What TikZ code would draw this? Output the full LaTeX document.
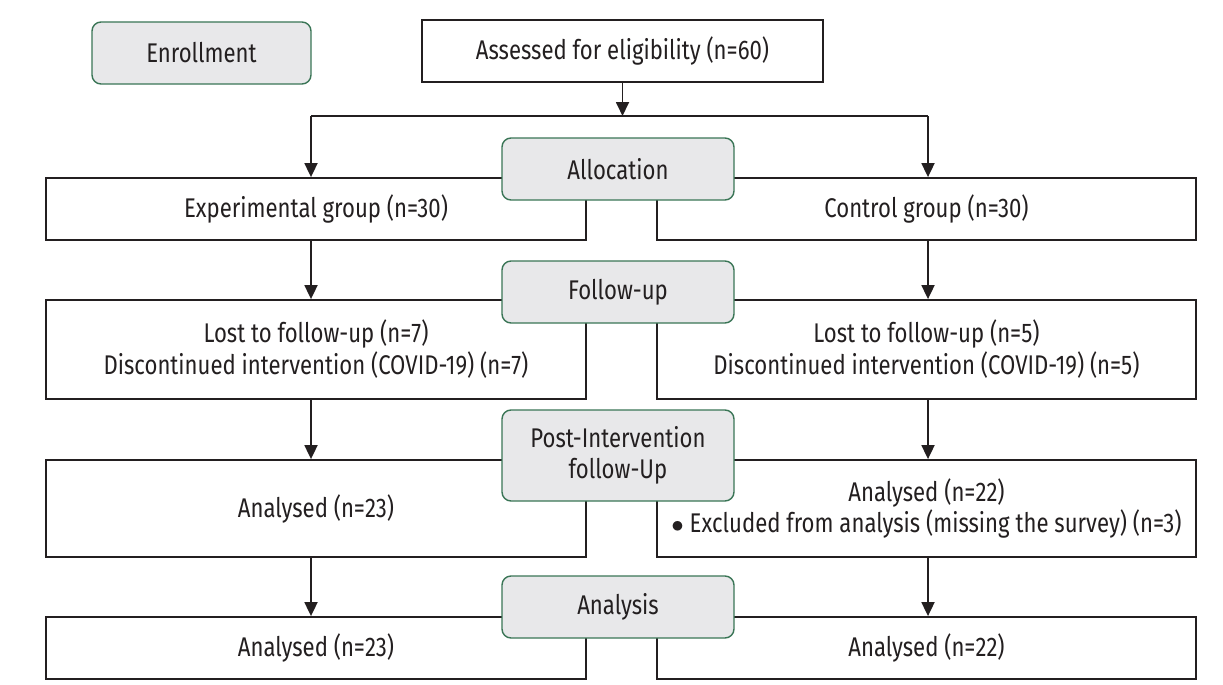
\documentclass[tikz,border=0pt]{standalone}
\usepackage{fontspec}
\setmainfont{Fira Sans}[FakeStretch=0.82]
\usepackage{tikz}
\usetikzlibrary{arrows.meta}
\definecolor{ink}{HTML}{231F20}
\definecolor{stageLine}{HTML}{3A7556}
\definecolor{stageFill}{HTML}{E8E8EA}
\tikzset{
  flowBox/.style={draw=ink, line width=1.8pt, fill=white, inner sep=0pt, text=ink, align=center},
  stageBox/.style={draw=stageLine, line width=1.4pt, fill=stageFill, rounded corners=9pt, inner sep=0pt, text=ink, align=center},
  flowArrow/.style={draw=ink, line width=1.8pt, -{Triangle[width=13pt,length=14pt]}},
  flowLine/.style={draw=ink, line width=1.8pt}
}

\begin{document}
\begin{tikzpicture}[x=1pt, y=-1pt, font=\fontsize{27}{31}\selectfont]
  \useasboundingbox (0,0) rectangle (1223,685);

  \node[stageBox, minimum width=219pt, minimum height=62pt] (enroll) at (201.5,53) {Enrollment};
  \node[flowBox, minimum width=401pt, minimum height=62pt] (assess) at (622.5,51) {Assessed for eligibility (n=60)};

  \node[flowBox, minimum width=540pt, minimum height=62pt] (expGroup) at (316,209) {Experimental group (n=30)};
  \node[flowBox, minimum width=539pt, minimum height=62pt] (ctrlGroup) at (926.5,209) {Control group (n=30)};
  \node[flowBox, minimum width=540pt, minimum height=99pt] (expLost) at (316,349.5)
    {Lost to follow-up (n=7)\\[1pt]Discontinued intervention (COVID-19) (n=7)};
  \node[flowBox, minimum width=539pt, minimum height=99pt] (ctrlLost) at (926.5,349.5)
    {Lost to follow-up (n=5)\\[1pt]Discontinued intervention (COVID-19) (n=5)};
  \node[flowBox, minimum width=540pt, minimum height=97pt] (expPost) at (316,508.5) {Analysed (n=23)};
  \node[flowBox, minimum width=539pt, minimum height=97pt] (ctrlPost) at (926.5,508.5)
    {Analysed (n=22)\\$\bullet$ Excluded from analysis (missing the survey) (n=3)};
  \node[flowBox, minimum width=540pt, minimum height=62pt] (expFinal) at (316,648) {Analysed (n=23)};
  \node[flowBox, minimum width=539pt, minimum height=62pt] (ctrlFinal) at (926.5,648) {Analysed (n=22)};

  \coordinate (splitL) at (311,116);
  \coordinate (splitR) at (928,116);
  \draw[flowArrow] (assess.south) -- (assess.south |- splitL);
  \draw[flowLine] (splitL) -- (splitR);
  \draw[flowArrow] (splitL) -- (splitL |- expGroup.north);
  \draw[flowArrow] (splitR) -- (splitR |- ctrlGroup.north);
  \draw[flowArrow] (splitL |- expGroup.south) -- (splitL |- expLost.north);
  \draw[flowArrow] (splitR |- ctrlGroup.south) -- (splitR |- ctrlLost.north);
  \draw[flowArrow] (splitL |- expLost.south) -- (splitL |- expPost.north);
  \draw[flowArrow] (splitR |- ctrlLost.south) -- (splitR |- ctrlPost.north);
  \draw[flowArrow] (splitL |- expPost.south) -- (splitL |- expFinal.north);
  \draw[flowArrow] (splitR |- ctrlPost.south) -- (splitR |- ctrlFinal.north);

  \node[stageBox, minimum width=232pt, minimum height=62pt] (alloc) at (618,169) {Allocation};
  \node[stageBox, minimum width=232pt, minimum height=62pt] (follow) at (618,292) {Follow-up};
  \node[stageBox, minimum width=232pt, minimum height=91pt] (postStage) at (618,455.5)
    {Post-Intervention\\follow-Up};
  \node[stageBox, minimum width=232pt, minimum height=62pt] (analysis) at (618,607) {Analysis};
\end{tikzpicture}
\end{document}
